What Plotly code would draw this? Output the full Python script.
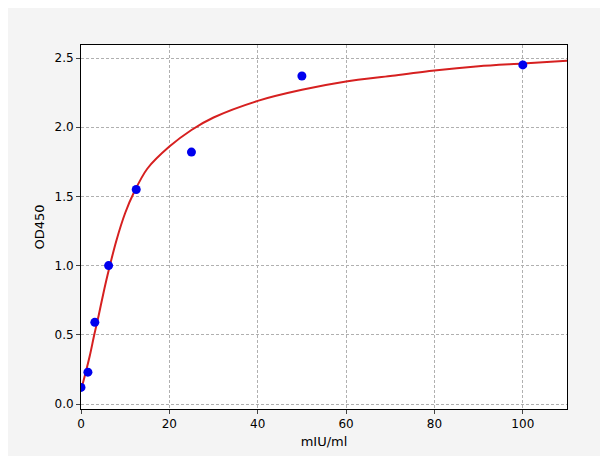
import plotly.graph_objects as go

# Standard points
conc = [0, 1.5625, 3.125, 6.25, 12.5, 25, 50, 100]
od = [0.12, 0.23, 0.59, 1.0, 1.55, 1.82, 2.37, 2.45]

# Fitted curve
curve_x = [0, 1, 2, 3, 4, 5, 6, 8, 10, 12, 15, 20, 25, 30, 40, 50, 60, 70, 80, 90, 100, 110]
curve_y = [0.1, 0.22, 0.35, 0.5, 0.64, 0.79, 0.93, 1.18, 1.38, 1.53, 1.7, 1.86, 1.98, 2.07, 2.19, 2.27, 2.33, 2.37, 2.41, 2.44, 2.46, 2.48]

fig = go.Figure()
fig.add_trace(go.Scatter(x=curve_x, y=curve_y, mode='lines',
                         line=dict(color='#d62020', width=2, shape='spline', smoothing=0.8),
                         hoverinfo='skip'))
fig.add_trace(go.Scatter(x=conc, y=od, mode='markers', marker=dict(color='#0000ee', size=9)))

axis = dict(showline=True, linecolor='black', mirror=True, ticks='outside', ticklen=4,
            showgrid=True, gridcolor='#b0b0b0', griddash='3px,2px', zeroline=False,
            automargin=False,
            tickfont=dict(family='DejaVu Sans', size=12, color='black'),
            title_font=dict(family='DejaVu Sans', size=13, color='black'))
fig.update_layout(width=608, height=456, showlegend=False,
                  paper_bgcolor='#f4f4f4', plot_bgcolor='white',
                  margin=dict(l=73, r=49, t=37, b=55),
                  xaxis=dict(axis, range=[0, 110], dtick=20, title=dict(text='mIU/ml', standoff=6)),
                  yaxis=dict(axis, range=[-0.036, 2.594], dtick=0.5, tickformat='.1f',
                             title=dict(text='OD450', standoff=6)))
fig.write_html("out.html")
